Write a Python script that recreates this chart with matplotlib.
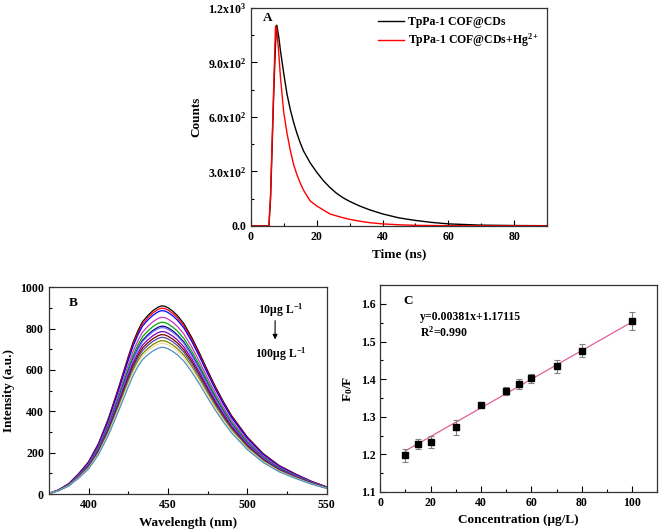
import matplotlib
matplotlib.use("Agg")
import matplotlib.pyplot as plt
from matplotlib.ticker import MultipleLocator, FixedLocator, FixedFormatter
import numpy as np

plt.rcParams['font.family'] = 'Liberation Serif'
plt.rcParams['font.weight'] = 'bold'
plt.rcParams['mathtext.fontset'] = 'custom'
plt.rcParams['mathtext.rm'] = 'Liberation Serif:bold'
plt.rcParams['mathtext.it'] = 'Liberation Serif:bold'
plt.rcParams['mathtext.bf'] = 'Liberation Serif:bold'
plt.rcParams['mathtext.default'] = 'rm'

# ---- panel A: fluorescence decay ----
time_ns = [0, 5.5, 6, 6.5, 7, 7.5, 7.9, 8.5, 9, 10, 11, 12, 13, 14, 15, 16, 18, 20,
           22, 24, 26, 28, 30, 33, 36, 40, 45, 50, 55, 60, 70, 80, 90]
counts_cof = [0, 0, 150, 450, 750, 1000, 1105, 1040, 965, 840, 725, 640, 570, 510, 458,
              413, 348, 296, 250, 212, 180, 155, 135, 110, 89, 66, 44, 30, 19, 11, 4, 2, 1]
counts_hg = [0, 0, 170, 480, 790, 1100, 1080, 950, 820, 625, 510, 415, 338, 282, 237,
             197, 138, 110, 88, 66, 55, 45, 36, 26, 18, 11, 6, 3, 2, 1, 0, 0, 0]
a_yticks = [0, 300, 600, 900, 1200]
a_ylabels = ['0.0', r'3.0x10$^2$', r'6.0x10$^2$', r'9.0x10$^2$', r'1.2x10$^3$']

# ---- panel B: emission spectra ----
wavelength = [375, 381.25, 387.5, 393.75, 400, 406.25, 412.5, 418.75, 425, 428, 431.25,
              434, 437.5, 440.6, 443.75, 446, 448, 450, 453, 456, 460, 465, 470, 475,
              480, 485, 490, 500, 510, 520, 530, 540, 550]
profile = [0.003, 0.023, 0.055, 0.108, 0.171, 0.268, 0.401, 0.561, 0.729, 0.805, 0.871,
           0.916, 0.950, 0.975, 0.993, 1.0, 0.998, 0.990, 0.972, 0.948, 0.906, 0.832,
           0.747, 0.656, 0.569, 0.490, 0.418, 0.303, 0.215, 0.152, 0.108, 0.069, 0.038]
peaks = [910, 899, 887, 855, 831, 812, 805, 786, 771, 758, 742, 729, 710]
spec_colors = ['#000000', '#ff0000', '#0000ff', '#cc33cc', '#00aa00', '#000080', '#7070ff',
               '#8000c0', '#800000', '#4a4a9a', '#808000', '#e8e0a0', '#5090c0']

# ---- panel C: calibration ----
conc = [10, 15, 20, 30, 40, 50, 55, 60, 70, 80, 100]
ratio = [1.197, 1.228, 1.232, 1.272, 1.330, 1.368, 1.387, 1.402, 1.434, 1.476, 1.555]
ratio_err = [0.017, 0.013, 0.016, 0.020, 0.003, 0.011, 0.014, 0.013, 0.018, 0.018, 0.024]
slope = 0.00381
intercept = 1.17115

fig = plt.figure(figsize=(6.6, 5.29), dpi=100)

def style(ax):
    ax.tick_params(which='both', direction='in', top=False, right=False, labelsize=8.5)
    ax.tick_params(which='major', length=4, width=0.8)
    ax.tick_params(which='minor', length=2.5, width=0.8)
    for s in ax.spines.values():
        s.set_linewidth(0.9)
        s.set_color('#333333')

# A
axA = fig.add_axes([0.380, 0.573, 0.449, 0.412])
axA.plot(time_ns, counts_cof, color='black', lw=1.0, label='TpPa-1 COF@CDs')
axA.plot(time_ns, counts_hg, color='#ff0000', lw=1.0, label=r'TpPa-1 COF@CDs+Hg$^{2+}$')
axA.set_xlim(0, 90)
axA.set_ylim(0, 1200)
axA.xaxis.set_major_locator(MultipleLocator(20))
axA.xaxis.set_minor_locator(MultipleLocator(10))
axA.yaxis.set_major_locator(FixedLocator(a_yticks))
axA.yaxis.set_major_formatter(FixedFormatter(a_ylabels))
axA.yaxis.set_minor_locator(MultipleLocator(150))
axA.set_xlabel('Time (ns)', fontsize=9.5, fontweight='bold')
axA.set_ylabel('Counts', fontsize=9.5, fontweight='bold')
axA.text(0.04, 0.94, 'A', transform=axA.transAxes, fontsize=9.5, fontweight='bold')
axA.legend(loc='upper right', frameon=False, fontsize=8.5, handlelength=2.2,
           handletextpad=0.3, borderaxespad=0.3, labelspacing=0.3)
style(axA)

# B
axB = fig.add_axes([0.074, 0.066, 0.421, 0.391])
for pk, col in zip(peaks, spec_colors):
    axB.plot(wavelength, np.array(profile) * pk, color=col, lw=0.9)
axB.set_xlim(375, 550)
axB.set_ylim(0, 1000)
axB.xaxis.set_major_locator(MultipleLocator(50))
axB.xaxis.set_minor_locator(MultipleLocator(25))
axB.yaxis.set_major_locator(MultipleLocator(200))
axB.yaxis.set_minor_locator(MultipleLocator(100))
axB.set_xlabel('Wavelength (nm)', fontsize=9.5, fontweight='bold')
axB.set_ylabel('Intensity (a.u.)', fontsize=9.5, fontweight='bold')
axB.text(0.07, 0.91, 'B', transform=axB.transAxes, fontsize=9.5, fontweight='bold')
axB.text(521, 890, r'10μg L$^{-1}$', ha='center', va='center', fontsize=8.5)
axB.text(521, 676, r'100μg L$^{-1}$', ha='center', va='center', fontsize=8.5)
axB.annotate('', xy=(517.5, 734), xytext=(517.5, 852),
             arrowprops=dict(arrowstyle='-|>', color='black', lw=0.8, mutation_scale=7))
style(axB)

# C
axC = fig.add_axes([0.576, 0.070, 0.420, 0.391])
fit_x = np.array([conc[0], conc[-1]])
axC.plot(fit_x, slope * fit_x + intercept, color='#e0609a', lw=0.9)
axC.errorbar(conc, ratio, yerr=ratio_err, fmt='s', color='black', ms=4.5,
             ecolor='#808080', elinewidth=0.8, capsize=2.5, capthick=0.8)
axC.set_xlim(0, 110)
axC.set_ylim(1.1, 1.65)
axC.xaxis.set_major_locator(MultipleLocator(20))
axC.xaxis.set_minor_locator(MultipleLocator(10))
axC.yaxis.set_major_locator(MultipleLocator(0.1))
axC.yaxis.set_minor_locator(MultipleLocator(0.05))
axC.set_xlabel('Concentration (μg/L)', fontsize=9.5, fontweight='bold')
axC.set_ylabel(r'F$_0$/F', fontsize=9.5, fontweight='bold')
axC.text(0.082, 0.91, 'C', transform=axC.transAxes, fontsize=9.5, fontweight='bold')
axC.text(0.145, 0.83, 'y=0.00381x+1.17115', transform=axC.transAxes, fontsize=8.5)
axC.text(0.145, 0.75, r'R$^2$=0.990', transform=axC.transAxes, fontsize=8.5)
style(axC)

fig.savefig('out.png', dpi=100)
